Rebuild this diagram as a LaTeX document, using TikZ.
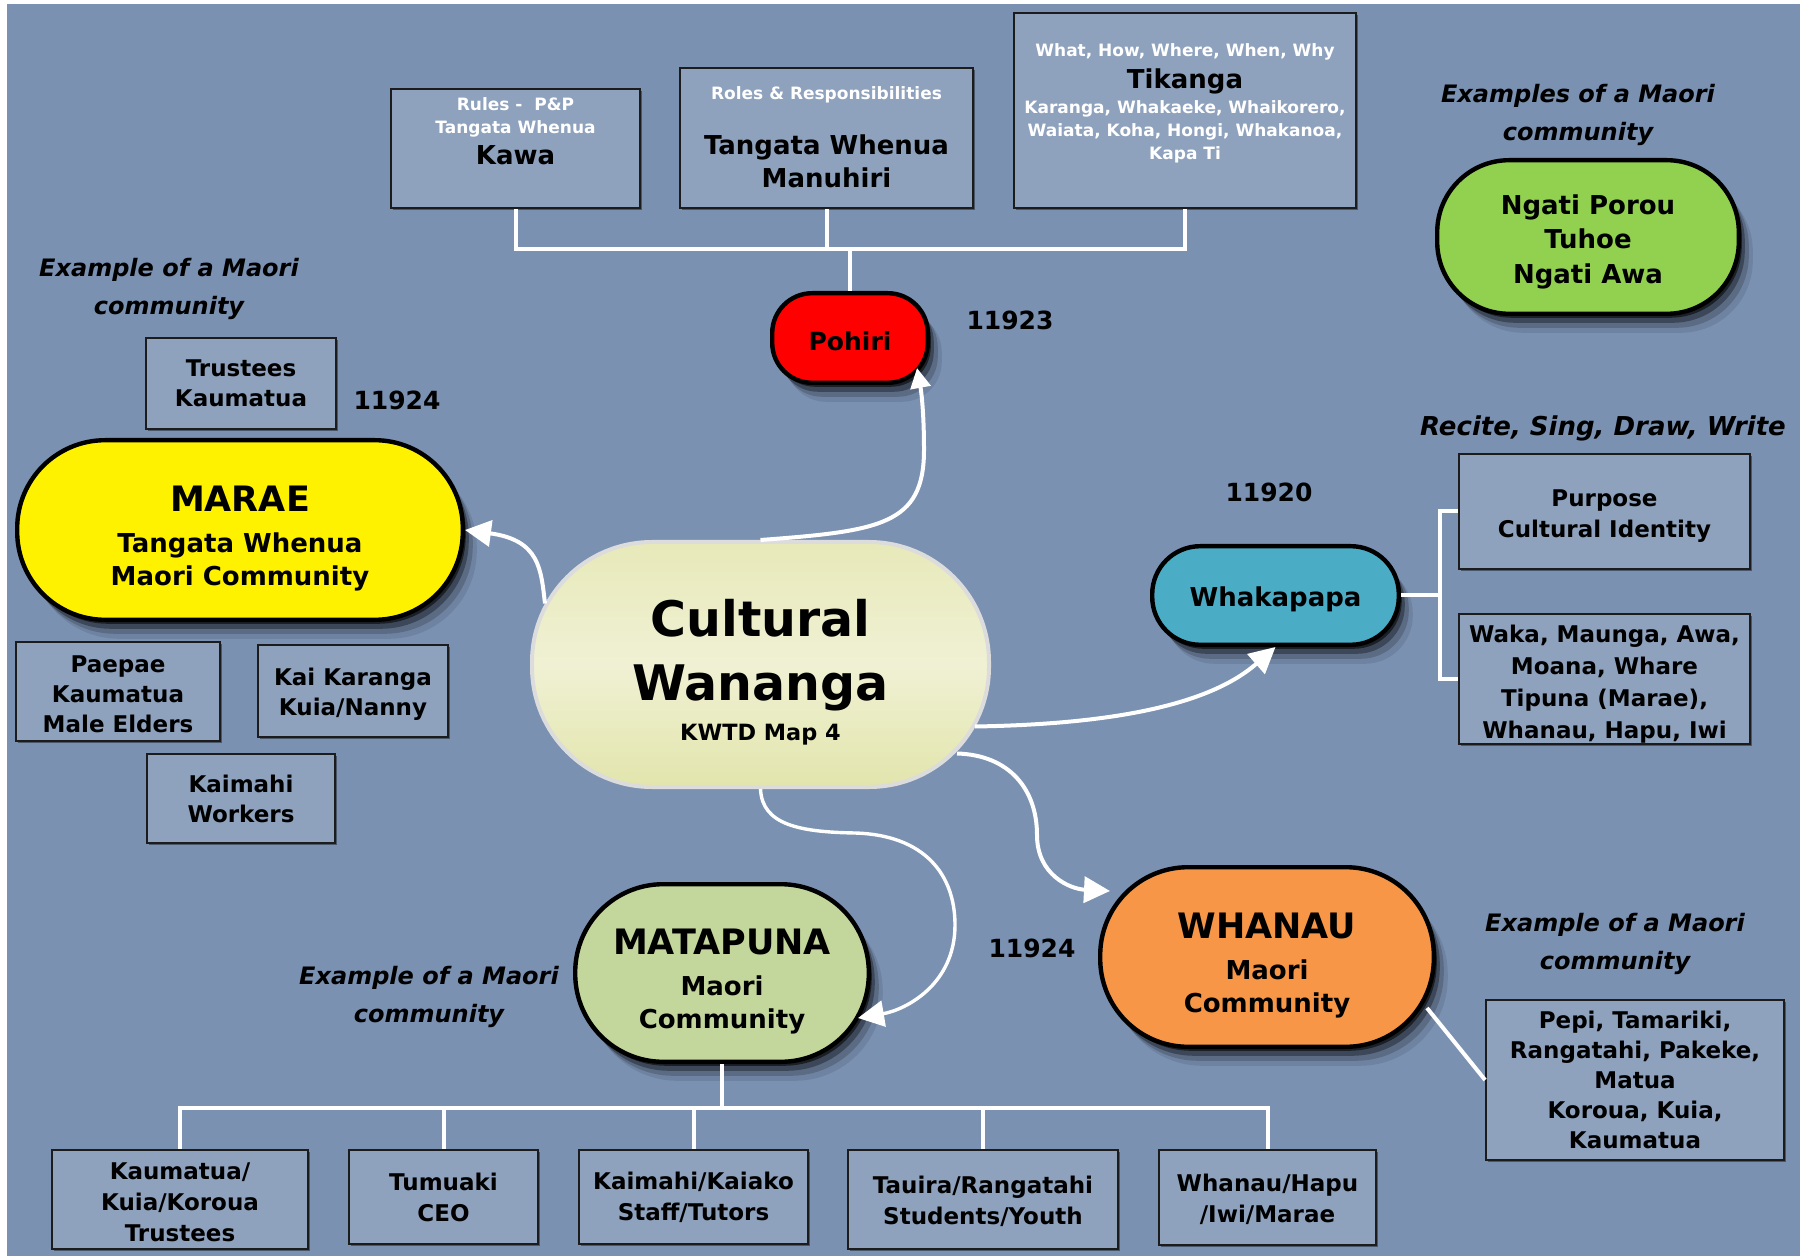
\documentclass[tikz,border=0pt]{standalone}
\usepackage{fontspec}
\setmainfont{DejaVu Sans}[BoldFont={DejaVu Sans Bold},ItalicFont={DejaVu Sans Oblique},BoldItalicFont={DejaVu Sans Bold Oblique}]
\usetikzlibrary{arrows.meta,shadows,calc}
\definecolor{bgc}{HTML}{7A91B1}
\definecolor{boxfill}{HTML}{8FA2BD}
\definecolor{boxline}{HTML}{1C1C1C}
\definecolor{cLime}{HTML}{92D050}
\definecolor{cTeal}{HTML}{4BACC6}
\definecolor{cOrange}{HTML}{F79646}
\definecolor{cMat}{HTML}{C3D69B}
\definecolor{cenline}{HTML}{DCDCDC}
\definecolor{cenTop}{HTML}{E7E9B9}
\definecolor{cenMid}{HTML}{F0F1D4}
\definecolor{cenBot}{HTML}{E2E5AC}
\newcommand\myfs[2]{\fontsize{#1}{#2}\selectfont\bfseries}
\newcommand\tp[1]{\rule{0pt}{#1}}
\tikzset{
  bx/.style={draw=boxline, line width=0.9pt, fill=boxfill, inner sep=0pt, align=center,
    font=\myfs{11.5}{15}, drop shadow={shadow xshift=1.1pt, shadow yshift=-1.1pt, opacity=.4, fill=black}},
  pillshadow/.style={drop shadow={shadow xshift=1.5pt,shadow yshift=-2pt,opacity=.55,fill=black},
    drop shadow={shadow xshift=3pt,shadow yshift=-4.5pt,opacity=.32,fill=black},
    drop shadow={shadow xshift=5pt,shadow yshift=-7pt,opacity=.18,fill=black},
    drop shadow={shadow xshift=7pt,shadow yshift=-9.5pt,opacity=.09,fill=black}},
  pill/.style={draw=black, line width=2.2pt, inner sep=0pt, align=center, pillshadow},
  txt/.style={inner sep=0pt, align=center},
  smallw/.style={txt, text=white, font=\myfs{8.5}{11.5}},
  bigb/.style={txt, font=\myfs{13}{16.5}},
  numlbl/.style={txt, font=\myfs{12.5}{15}},
  head/.style={txt, font=\myfs{12}{19}\itshape},
  wline/.style={draw=white, line width=2pt},
  warrow/.style={draw=white, line width=2pt, -{Triangle[length=13pt,width=13pt]}},
}
\begin{document}
\begin{tikzpicture}[x=0.5pt,y=-0.5pt]
\useasboundingbox (0,0) rectangle (1804,1256);
\fill[bgc] (7,4) rectangle (1800,1256);

% top boxes
\node[bx, minimum width=124.5pt, minimum height=59.5pt] (kawa) at (515.5,148.5) {};
\node[smallw] (kawaA) at (515.5,117.3) {Rules -\ \ P\&P\\Tangata Whenua};
\node[bigb] (kawaB) at (515.5,155) {Kawa};
\node[bx, minimum width=146.5pt, minimum height=70pt] (roles) at (826.5,138) {};
\node[smallw] (rolesA) at (826.5,95.3) {Roles \& Responsibilities};
\node[bigb] (rolesB) at (826.5,161) {Tangata Whenua\\Manuhiri};
\node[bx, minimum width=171pt, minimum height=97.5pt] (tik) at (1185,110.5) {};
\node[smallw] (tikA) at (1185,52.3) {What, How, Where, When, Why};
\node[bigb] (tikB) at (1185,81.5) {Tikanga};
\node[smallw] (tikC) at (1185,131.5) {Karanga, Whakaeke, Whaikorero,\\Waiata, Koha, Hongi, Whakanoa,\\Kapa Ti};

\node[pill, fill=red, rounded corners=20pt, minimum width=77.8pt, minimum height=44.8pt, font=\myfs{12.5}{15}] (pohiri) at (850,338) {\tp{12.9pt}Pohiri};
\node[numlbl] (n1) at (1010,320) {11923};

\coordinate (tb) at (850,249);
\draw[wline] (kawa.south) -- (kawa.south |- tb) -- (tik.south |- tb) -- (tik.south);
\draw[wline] (roles.south) -- (roles.south |- tb);
\draw[wline] (tb) -- (pohiri.north);

% top right
\node[head] (h1) at (1578,114.5) {Examples of a Maori\\community};
\node[pill, fill=cLime, rounded corners=36pt, minimum width=150.8pt, minimum height=76.8pt, font=\myfs{13}{17.25}] (ngati) at (1588,237) {\tp{14.5pt}Ngati Porou\\Tuhoe\\Ngati Awa};

% left
\node[head] (h2) at (169,288.5) {Example of a Maori\\community};
\node[bx, minimum width=95pt, minimum height=45.5pt] (trust) at (241,383.5) {Trustees\\Kaumatua};
\node[numlbl] (n2) at (397,400) {11924};
\node[pill, fill=yellow, rounded corners=44pt, minimum width=222.8pt, minimum height=89.8pt, font=\myfs{13}{16.5}] (marae) at (240,530) {{\myfs{17.5}{21}\tp{21.4pt}MARAE}\\[4pt]Tangata Whenua\\Maori Community};
\node[bx, minimum width=102pt, minimum height=49.5pt] (paepae) at (118,691.5) {\tp{10.7pt}Paepae\\Kaumatua\\Male Elders};
\node[bx, minimum width=95pt, minimum height=46pt] (kaikar) at (353,691) {\tp{12.2pt}Kai Karanga\\Kuia/Nanny};
\node[bx, minimum width=94pt, minimum height=44.5pt] (kaimahi) at (241,798.5) {Kaimahi\\Workers};

% central
\node[draw=cenline, line width=2pt, top color=cenTop, bottom color=cenBot, middle color=cenMid,
  rounded corners=60pt, minimum width=228.5pt, minimum height=122.5pt, inner sep=0pt, align=center,
  font=\myfs{24.5}{32.2}] (central) at (760.5,664.5) {\tp{26pt}Cultural\\Wananga\\[-12.5pt]{\myfs{11.2}{13}KWTD Map 4}};

% right middle
\node[head, font=\myfs{13}{19}\itshape] (h3) at (1603,428.3) {Recite, Sing, Draw, Write};
\node[numlbl] (n3) at (1269,492) {11920};
\node[pill, fill=cTeal, rounded corners=24pt, minimum width=123.3pt, minimum height=49.3pt, font=\myfs{13}{16}] (whaka) at (1275.5,595.5) {\tp{13.3pt}Whakapapa};
\node[bx, minimum width=145.5pt, minimum height=57.5pt, font=\myfs{11.5}{15.5}] (purpose) at (1604.5,511.5) {\tp{13pt}Purpose\\Cultural Identity};
\node[bx, minimum width=145.5pt, minimum height=65pt, font=\myfs{11.5}{16}] (waka) at (1604.5,679) {\tp{13.4pt}Waka, Maunga, Awa,\\Moana, Whare\\Tipuna (Marae),\\Whanau, Hapu, Iwi};
\coordinate (wb) at (1440,595.5);
\draw[wline] (whaka.east) -- (wb);
\draw[wline] (purpose.west) -- (purpose.west -| wb) -- (waka.west -| wb) -- (waka.west);

% whanau
\node[pill, fill=cOrange, rounded corners=44pt, minimum width=166.8pt, minimum height=89.8pt, font=\myfs{13}{16.5}] (whanau) at (1267,957) {{\myfs{17.5}{21}\tp{21.4pt}WHANAU}\\[4pt]Maori\\Community};
\node[numlbl] (n4) at (1032,948) {11924};
\node[head] (h4) at (1615,943.5) {Example of a Maori\\community};
\node[bx, minimum width=149pt, minimum height=80pt] (pepi) at (1635,1080) {Pepi, Tamariki,\\Rangatahi, Pakeke,\\Matua\\Koroua, Kuia,\\Kaumatua};
\draw[wline] ($(whanau.east)+(-9,51)$) -- (pepi.west);

% matapuna
\node[pill, fill=cMat, rounded corners=44pt, minimum width=146.8pt, minimum height=88.8pt, font=\myfs{13}{16.5}] (matapuna) at (722,973) {{\myfs{17.5}{21}\tp{21.4pt}MATAPUNA}\\[4pt]Maori\\Community};
\node[head] (h5) at (429,996.5) {Example of a Maori\\community};

\node[bx, minimum width=128pt, minimum height=49.5pt, font=\myfs{11.5}{15.5}] (kaum) at (180,1199.5) {\tp{11pt}Kaumatua/\\Kuia/Koroua\\Trustees};
\node[bx, minimum width=94.5pt, minimum height=47pt, font=\myfs{11.5}{15.5}] (tumu) at (443.5,1197) {Tumuaki\\CEO};
\node[bx, minimum width=114.5pt, minimum height=47pt, font=\myfs{11.5}{15.5}] (kaim) at (693.5,1197) {Kaimahi/Kaiako\\Staff/Tutors};
\node[bx, minimum width=135pt, minimum height=49.5pt, font=\myfs{11.5}{15.5}] (taui) at (983,1199.5) {\tp{10.5pt}Tauira/Rangatahi\\Students/Youth};
\node[bx, minimum width=108.5pt, minimum height=47.5pt, font=\myfs{11.5}{15.5}] (whap) at (1267.5,1197.5) {\tp{10.5pt}Whanau/Hapu\\/Iwi/Marae};

\coordinate (mb) at (722,1108);
\draw[wline] (matapuna.south) -- (mb);
\draw[wline] (kaum.north) -- (kaum.north |- mb) -- (whap.north |- mb) -- (whap.north);
\draw[wline] (tumu.north) -- (tumu.north |- mb);
\draw[wline] (kaim.north) -- (kaim.north |- mb);
\draw[wline] (taui.north) -- (taui.north |- mb);

% arrows
\draw[warrow, -{Triangle[length=10pt,width=10pt]}] (central.north) .. controls (880,531) and (924,525) .. (924,450) .. controls (924,410) and (921,390) .. ($(pohiri.south east)+(-13,-17)$);
\draw[warrow] ($(central.west)+(15,-61)$) .. controls (541,570) and (540,540) .. (marae.east);
\draw[warrow] ($(central.east)+(-16,62)$) .. controls (1130,724) and (1215,700) .. (whaka.south);
\draw[warrow] ($(central.east)+(-34,89)$) .. controls (1010,755) and (1037,790) .. (1037,835) .. controls (1037,875) and (1070,889) .. ($(whanau.north west)+(12,26)$);
\draw[warrow, line width=1.7pt] (central.south) .. controls (762,825) and (800,832) .. (855,833) .. controls (925,835) and (955,875) .. (955,925) .. controls (955,985) and (905,1010) .. ($(matapuna.east)+(-13,45)$);
\end{tikzpicture}
\end{document}
